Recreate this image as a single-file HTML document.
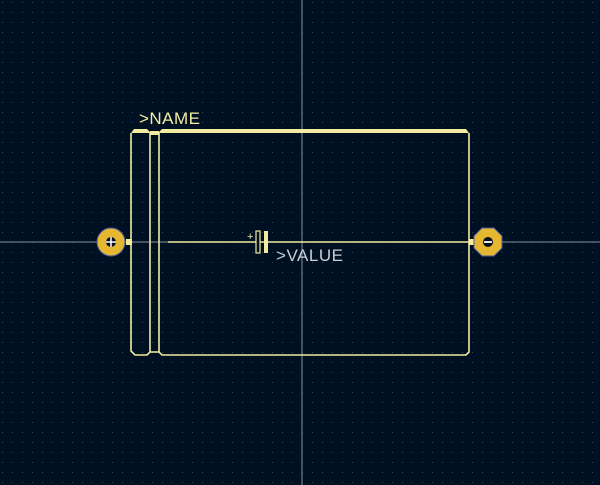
<!DOCTYPE html>
<html><head><meta charset="utf-8"><style>
html,body{margin:0;padding:0;background:#001023;width:600px;height:485px;overflow:hidden}
svg{display:block}
text{font-family:"Liberation Sans",sans-serif}
</style></head><body>
<svg width="600" height="485" viewBox="0 0 600 485">
<defs>
<pattern id="g" x="2" y="2" width="10" height="10" patternUnits="userSpaceOnUse">
<rect width="1" height="1" fill="#3a4658"/>
</pattern>
</defs>
<rect width="600" height="485" fill="#001023"/>
<rect width="600" height="485" fill="url(#g)"/>
<line x1="302" y1="0" x2="302" y2="485" stroke="#8a8f99" stroke-width="1"/>
<line x1="0" y1="242" x2="600" y2="242" stroke="#8a8f99" stroke-width="1"/>
<g fill="none" stroke="#f2eca0" stroke-width="1.6">
<path d="M131,133 V351 L135,355 H147 L150,352 H159 L162,355 H466 L469,352 V133"/>
<line x1="150" y1="133" x2="150" y2="352"/>
<line x1="159" y1="133" x2="159" y2="352"/>
</g>
<path d="M131,133 L134,129 H147 L150,132 H159 L162,129 H466 L469,133 Z" fill="#f2eca0"/>
<rect x="150" y="131" width="9" height="4" fill="#f2eca0"/>
<text x="139" y="124" fill="#f2eca0" font-size="17" textLength="61">&gt;NAME</text>
<line x1="168" y1="242" x2="470" y2="242" stroke="#f2eca0" stroke-width="1.4"/>
<rect x="256" y="231" width="4" height="22" fill="#001023" stroke="#f2eca0" stroke-width="1.2"/>
<rect x="264" y="231" width="4" height="22" fill="#f2eca0"/>
<text x="247" y="240" fill="#f2eca0" font-size="11">+</text>
<text x="276" y="261" fill="#c9cdd4" font-size="17" textLength="67">&gt;VALUE</text>
<rect x="126" y="239" width="6" height="6" fill="#f2eca0"/>
<rect x="469" y="239" width="6" height="6" fill="#f2eca0"/>
<g>
<circle cx="111" cy="242" r="14" fill="#e6b832" stroke="#4a5aa0" stroke-width="1"/>
<circle cx="111" cy="242" r="5" fill="#0a0f1c"/>
<path d="M106,242 H116 M111,237 V247" stroke="#fff" stroke-width="1.5"/>
</g>
<g>
<polygon points="482,228 494,228 502,236 502,248 494,256 482,256 474,248 474,236" fill="#e6b832" stroke="#4a5aa0" stroke-width="1"/>
<circle cx="488" cy="242" r="5" fill="#0a0f1c"/>
<line x1="484" y1="242" x2="492" y2="242" stroke="#fff" stroke-width="1.8"/>
</g>
</svg>
</body></html>
